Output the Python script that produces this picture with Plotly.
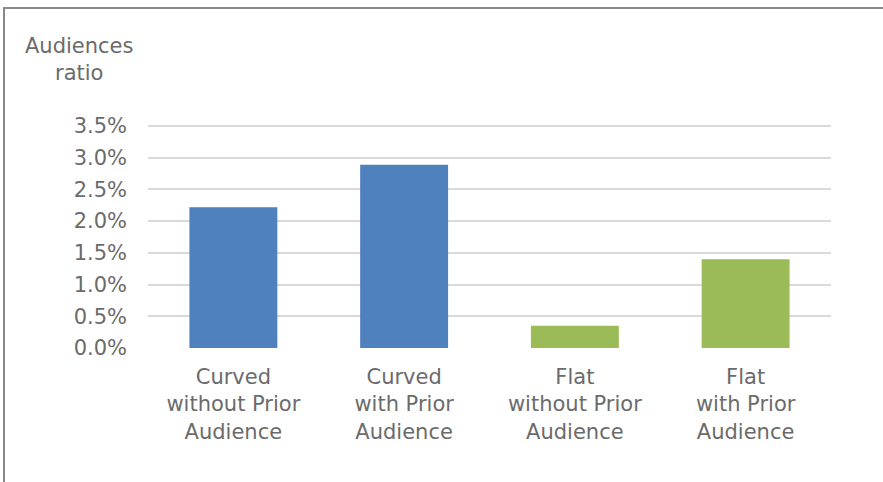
import plotly.graph_objects as go

categories = ["Curved<br>without Prior<br>Audience", "Curved<br>with Prior<br>Audience",
              "Flat<br>without Prior<br>Audience", "Flat<br>with Prior<br>Audience"]
values = [0.0222, 0.0289, 0.0035, 0.0140]
bar_colors = ["#4F81BD", "#4F81BD", "#9BBB59", "#9BBB59"]
tick_vals = [0, 0.005, 0.01, 0.015, 0.02, 0.025, 0.03, 0.035]
tick_text = ["0.0%", "0.5%", "1.0%", "1.5%", "2.0%", "2.5%", "3.0%", "3.5%"]
axis_title = "Audiences<br>ratio"

W, H = 883, 482
L, R, T, B = 148, 831, 124, 348
YMAX = 0.035 * (B - T) / (B - 126)
pw, ph = R - L, B - T

def px(x):
    return (x - L) / pw

def py(y):
    return (B - y) / ph

fig = go.Figure(go.Bar(x=categories, y=values, marker=dict(color=bar_colors, line=dict(width=0)),
                       hoverinfo="skip"))

font_color = "#6B6B6B"
FS = 21
fig.update_layout(
    width=W, height=H,
    margin=dict(l=L, r=W - R, t=T, b=H - B),
    paper_bgcolor="white", plot_bgcolor="white",
    font=dict(family="DejaVu Sans, Verdana, sans-serif", size=FS, color=font_color),
    bargap=0.485,
    showlegend=False,
    xaxis=dict(showgrid=False, showline=False, ticks="", tickfont=dict(size=FS, color=font_color),
               ticklabelstandoff=14),
    yaxis=dict(range=[0, YMAX], tickvals=tick_vals, ticktext=tick_text, showgrid=True,
               gridcolor="#D9D9D9", gridwidth=1.5, zeroline=False, showline=False, ticks="",
               ticklabelstandoff=20, tickfont=dict(size=FS, color=font_color)),
    annotations=[dict(text=axis_title, x=px(79), y=py(59), xref="paper", yref="paper",
                      showarrow=False, xanchor="center", yanchor="middle", align="center",
                      font=dict(size=FS, color=font_color))],
    shapes=[dict(type="rect", xref="paper", yref="paper", x0=px(4), x1=px(895), y0=py(495), y1=py(8),
                 line=dict(color="#898989", width=2), fillcolor="rgba(0,0,0,0)", layer="below")],
)

fig.write_html("out.html")
